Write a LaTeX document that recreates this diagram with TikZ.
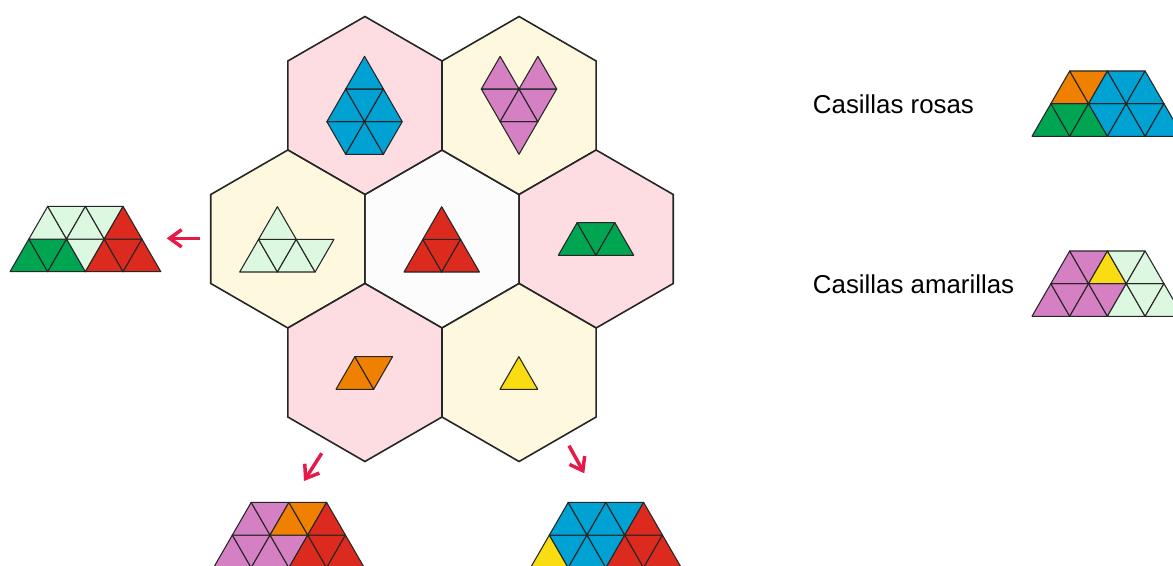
\documentclass[tikz,border=0pt]{standalone}
\usepackage{fontspec}
\setmainfont{Liberation Sans}
\usetikzlibrary{shapes.geometric,arrows.meta}

\definecolor{cellpink}{HTML}{FEDDE2}
\definecolor{cellyellow}{HTML}{FEF8DE}
\definecolor{cellwhite}{HTML}{FCFCFC}
\definecolor{tblue}{HTML}{00A2D3}
\definecolor{tpurple}{HTML}{D680C4}
\definecolor{tlight}{HTML}{DDF8E0}
\definecolor{tred}{HTML}{DD2A1E}
\definecolor{tgreen}{HTML}{00A551}
\definecolor{torange}{HTML}{F08000}
\definecolor{tyellow}{HTML}{F9DC12}
\definecolor{arrowred}{HTML}{E6194B}

% one small triangle of the lattice: column, row, u/d, colour
\newcommand{\tri}[4]{%
  \if#3u\filldraw[piece,fill=#4] (#1,#2) -- ++(1,0) -- ++(-1,1) -- cycle;%
  \else\filldraw[piece,fill=#4] (#1+1,#2) -- ++(0,1) -- ++(-1,0) -- cycle;\fi}

% trapezoid of 12 triangles: origin, bottom row colours, top row colours
\newcommand{\trap}[3]{%
  \begin{scope}[shift={(#1)}, lattice]
    \foreach \clr [count=\n from 0] in {#2} {\pgfmathtruncatemacro\col{\n/2}\ifodd\n\relax\tri{\col}{0}{d}{\clr}\else\tri{\col}{0}{u}{\clr}\fi}
    \foreach \clr [count=\n from 0] in {#3} {\pgfmathtruncatemacro\col{\n/2}\ifodd\n\relax\tri{\col}{1}{d}{\clr}\else\tri{\col}{1}{u}{\clr}\fi}
  \end{scope}}

\begin{document}
\begin{tikzpicture}[
        x=0.75pt, y=-0.75pt,
        hexcell/.style={regular polygon, regular polygon sides=6, shape border rotate=30, minimum size=133.5pt, inner sep=0pt, draw=black!85, line width=1.2pt},
        piece/.style={draw=black!85, line width=0.8pt, line join=round},
        lattice/.style={x={(28.275pt,0pt)}, y={(14.1375pt,24.49pt)}},
        pointer/.style={draw=arrowred, line width=2.6pt, -{Straight Barb[length=9pt,width=13pt]}},
        legendtext/.style={anchor=base west, inner sep=0pt, font=\fontsize{19.4pt}{23pt}\selectfont}
    ]
    \useasboundingbox (0,0) rectangle (1173,565);

    % Honeycomb
    \node [hexcell, fill=cellwhite] (hC) at (442,239) {};
    \node [hexcell, fill=cellpink] (hTL) at ([shift={(-77.07,-133.5)}]hC.center) {};
    \node [hexcell, fill=cellyellow] (hTR) at ([shift={(77.07,-133.5)}]hC.center) {};
    \node [hexcell, fill=cellyellow] (hL) at ([shift={(-154.14,0)}]hC.center) {};
    \node [hexcell, fill=cellpink] (hR) at ([shift={(154.14,0)}]hC.center) {};
    \node [hexcell, fill=cellpink] (hBL) at ([shift={(-77.07,133.5)}]hC.center) {};
    \node [hexcell, fill=cellyellow] (hBR) at ([shift={(77.07,133.5)}]hC.center) {};

    % Shapes inside the cells
    \coordinate (dropO) at (308,154.3);
    \coordinate (heartO) at (443.6,154.3);
    \coordinate (lightO) at (239.7,272);
    \coordinate (redO) at (404,272);
    \coordinate (greenO) at (558.3,255.3);
    \coordinate (orangeO) at (336,389.3);
    \coordinate (yellowO) at (500,389.3);

    \begin{scope}[shift={(dropO)}, lattice]
        \foreach \col/\row/\k in {0/0/d, 1/0/u, 1/0/d, 0/1/u, 0/1/d, 1/1/u, 0/2/u} {\tri{\col}{\row}{\k}{tblue}}
    \end{scope}
    \begin{scope}[shift={(heartO)}, lattice]
        \foreach \col/\row/\k in {1/0/d, 0/1/d, 1/1/u, 1/1/d, 0/2/u, 1/2/u} {\tri{\col}{\row}{\k}{tpurple}}
    \end{scope}
    \begin{scope}[shift={(lightO)}, lattice]
        \foreach \col/\row/\k in {0/0/u, 0/0/d, 1/0/u, 1/0/d, 0/1/u} {\tri{\col}{\row}{\k}{tlight}}
    \end{scope}
    \begin{scope}[shift={(redO)}, lattice]
        \foreach \col/\row/\k in {0/0/u, 0/0/d, 1/0/u, 0/1/u} {\tri{\col}{\row}{\k}{tred}}
    \end{scope}
    \begin{scope}[shift={(greenO)}, lattice]
        \foreach \col/\row/\k in {0/0/u, 0/0/d, 1/0/u} {\tri{\col}{\row}{\k}{tgreen}}
    \end{scope}
    \begin{scope}[shift={(orangeO)}, lattice]
        \foreach \col/\row/\k in {0/0/u, 0/0/d} {\tri{\col}{\row}{\k}{torange}}
    \end{scope}
    \begin{scope}[shift={(yellowO)}, lattice]
        \tri{0}{0}{u}{tyellow}
    \end{scope}

    % Finished boards
    \coordinate (pzL) at (10,271.7);
    \coordinate (pzBL) at (213.5,567.7);
    \coordinate (pzBR) at (530.5,567.7);
    \coordinate (pzRosas) at (1032,136.3);
    \coordinate (pzAmar) at (1032,316.3);

    \trap{pzL}{tgreen,tgreen,tgreen,tlight,tred,tred,tred}{tlight,tlight,tlight,tlight,tred}
    \trap{pzBL}{tpurple,tpurple,tpurple,tpurple,tred,tred,tred}{tpurple,tpurple,torange,torange,tred}
    \trap{pzBR}{tyellow,tblue,tblue,tblue,tred,tred,tred}{tblue,tblue,tblue,tblue,tred}
    \trap{pzRosas}{tgreen,tgreen,tgreen,tblue,tblue,tblue,tblue}{torange,torange,tblue,tblue,tblue}
    \trap{pzAmar}{tpurple,tpurple,tpurple,tpurple,tlight,tlight,tlight}{tpurple,tpurple,tyellow,tlight,tlight}

    % Legend
    \node [legendtext] (tRosas) at (812.7,113.3) {Casillas rosas};
    \node [legendtext] (tAmar) at (812.7,293.3) {Casillas amarillas};

    % Arrows
    \coordinate (arLs) at (200,238.3);
    \coordinate (arLe) at (166.7,238.3);
    \coordinate (arBLs) at (321.7,453.3);
    \coordinate (arBLe) at (304,481);
    \coordinate (arBRs) at (569,445.7);
    \coordinate (arBRe) at (584.3,473.3);
    \draw [pointer] (arLs) -- (arLe);
    \draw [pointer] (arBLs) -- (arBLe);
    \draw [pointer] (arBRs) -- (arBRe);

\end{tikzpicture}
\end{document}
